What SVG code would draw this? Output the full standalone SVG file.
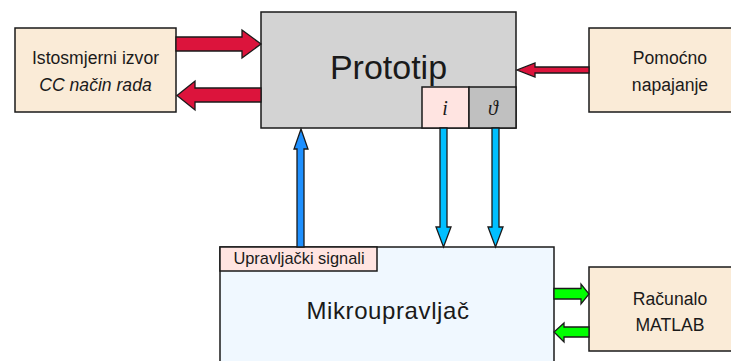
<svg xmlns="http://www.w3.org/2000/svg" width="731" height="361" viewBox="0 0 731 361">
<style>
.box{stroke:#1a1a1a;stroke-width:1.5}
.src{fill:#faebd7}
.t{font-family:"Liberation Sans",Arial,sans-serif;fill:#1a1a1a;text-anchor:middle}
.m{font-family:"Liberation Serif","Times New Roman",serif;font-style:italic;fill:#1a1a1a;text-anchor:middle}
.arr{stroke:#1a1a1a;stroke-width:1.3;stroke-linejoin:miter}
.red{fill:#dc143c}
.grn{fill:#00ff00}
</style>
<rect width="731" height="361" fill="#ffffff"/>
<g id="istosmjerni">
<rect class="box src" x="15" y="28" width="161" height="84"/>
<text class="t" x="95.5" y="64" font-size="17.6">Istosmjerni izvor</text>
<text class="t" x="95.5" y="91" font-size="17.6" font-style="italic">CC način rada</text>
</g>
<g id="prototip">
<rect class="box" x="261" y="12" width="255" height="116" fill="#d3d3d3"/>
<text class="t" x="388.5" y="79" font-size="34">Prototip</text>
<rect class="box" x="422" y="87" width="47" height="41" fill="#ffe4e1"/>
<text class="m" x="445" y="115" font-size="20">i</text>
<rect class="box" x="469" y="87" width="47" height="41" fill="#c0c0c0"/>
<text class="m" x="493" y="115" font-size="20">ϑ</text>
</g>
<g id="pomocno">
<rect class="box src" x="589" y="28" width="161" height="84"/>
<text class="t" x="670" y="64" font-size="17.6">Pomoćno</text>
<text class="t" x="670" y="91" font-size="17.6">napajanje</text>
</g>
<g id="mikro">
<rect class="box" x="220" y="247" width="334" height="130" fill="#f0f8ff"/>
<rect class="box" x="220" y="247" width="157" height="24" fill="#ffe4e1"/>
<text class="t" x="299" y="264" font-size="16.4">Upravljački signali</text>
<text class="t" x="388" y="319" font-size="24" letter-spacing="0.6">Mikroupravljač</text>
</g>
<g id="racunalo">
<rect class="box src" x="589" y="267" width="161" height="84"/>
<text class="t" x="670" y="305" font-size="17.6">Računalo</text>
<text class="t" x="670" y="331" font-size="17.6">MATLAB</text>
</g>
<g id="connectors">
<polygon class="arr red" points="176,37 242,37 242,30 261,44 242,58 242,51 176,51"/>
<polygon class="arr red" points="261,88 195,88 195,81 177,95.5 195,110 195,102 261,102"/>
<polygon class="arr red" points="589,67 535,67 535,63 517,70 535,77 535,73 589,73"/>
<polygon class="arr" fill="#1e90ff" points="297,247 297,149 294,149 301,129 308,149 304,149 304,247"/>
<polygon class="arr" fill="#00bfff" points="440,128 440,227 436,227 443.5,247 451,227 447,227 447,128"/>
<polygon class="arr" fill="#00bfff" points="492,128 492,227 488,227 495.5,247 503,227 499,227 499,128"/>
<polygon class="arr grn" points="554,288.5 581,288.5 581,284 589,294 581,304 581,299 554,299"/>
<polygon class="arr grn" points="589,327 564,327 564,323 554,332 564,342 564,337 589,337"/>
</g>
</svg>
